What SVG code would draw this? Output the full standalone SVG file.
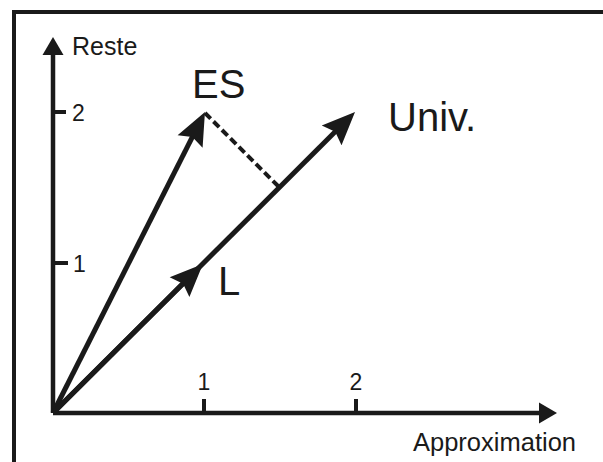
<svg xmlns="http://www.w3.org/2000/svg" width="603" height="462" viewBox="0 0 603 462">
<defs>
<style>
.ax{stroke:#1a1a1a;stroke-width:4.5;fill:none}
.vec{stroke:#1a1a1a;stroke-width:5;fill:none}
.dash{stroke:#1a1a1a;stroke-width:4;fill:none;stroke-dasharray:8 4}
.tick{stroke:#1a1a1a;stroke-width:4;fill:none}
text{font-family:"Liberation Sans",Arial,sans-serif;fill:#1a1a1a}
.small{font-size:23px}
.big{font-size:40px}
</style>
<marker id="ah" markerUnits="userSpaceOnUse" viewBox="-20 -16 36 32" refX="0" refY="0" markerWidth="36" markerHeight="32" orient="auto">
<path d="M15,0 L-18,-14 L-13,0 L-18,14 Z" fill="#1a1a1a"/>
</marker>
<marker id="axh" markerUnits="userSpaceOnUse" viewBox="-10 -12 22 24" refX="0" refY="0" markerWidth="22" markerHeight="24" orient="auto">
<path d="M10,0 L-8,-10.5 L-8,10.5 Z" fill="#1a1a1a"/>
</marker>
</defs>
<rect width="603" height="462" fill="#ffffff"/>
<rect id="frame" x="14" y="12" width="620" height="480" fill="none" stroke="#1a1a1a" stroke-width="4"/>
<g id="axes">
<line class="ax" x1="53" y1="413" x2="53" y2="47" marker-end="url(#axh)"/>
<line class="ax" x1="53" y1="413" x2="547" y2="413" marker-end="url(#axh)"/>
<line class="tick" x1="204" y1="399" x2="204" y2="413"/>
<line class="tick" x1="356" y1="399" x2="356" y2="413"/>
<line class="tick" x1="53" y1="263" x2="68" y2="263"/>
<line class="tick" x1="53" y1="112" x2="66" y2="112"/>
<text class="small" x="204" y="390" text-anchor="middle">1</text>
<text class="small" x="356" y="390" text-anchor="middle">2</text>
<text class="small" x="73" y="272">1</text>
<text class="small" x="72" y="121">2</text>
<text x="72" y="55" style="font-size:25px">Reste</text>
<text x="576" y="451" text-anchor="end" style="font-size:25.5px">Approximation</text>
</g>
<g id="connectors">
<line id="vec-es" class="vec" x1="53" y1="413" x2="198.2" y2="125.4" marker-end="url(#ah)"/>
<line id="vec-univ" class="vec" x1="53" y1="413" x2="344.4" y2="122.6" marker-end="url(#ah)"/>
<line id="vec-l" class="vec" x1="53" y1="413" x2="192.3" y2="274.5" marker-end="url(#ah)"/>
<line id="proj" class="dash" x1="205" y1="113" x2="279" y2="187"/>
</g>
<g id="node-es"><text class="big" x="192" y="98">ES</text></g>
<g id="node-univ"><text class="big" x="388" y="131">Univ.</text></g>
<g id="node-l"><text class="big" x="218" y="295">L</text></g>
</svg>
